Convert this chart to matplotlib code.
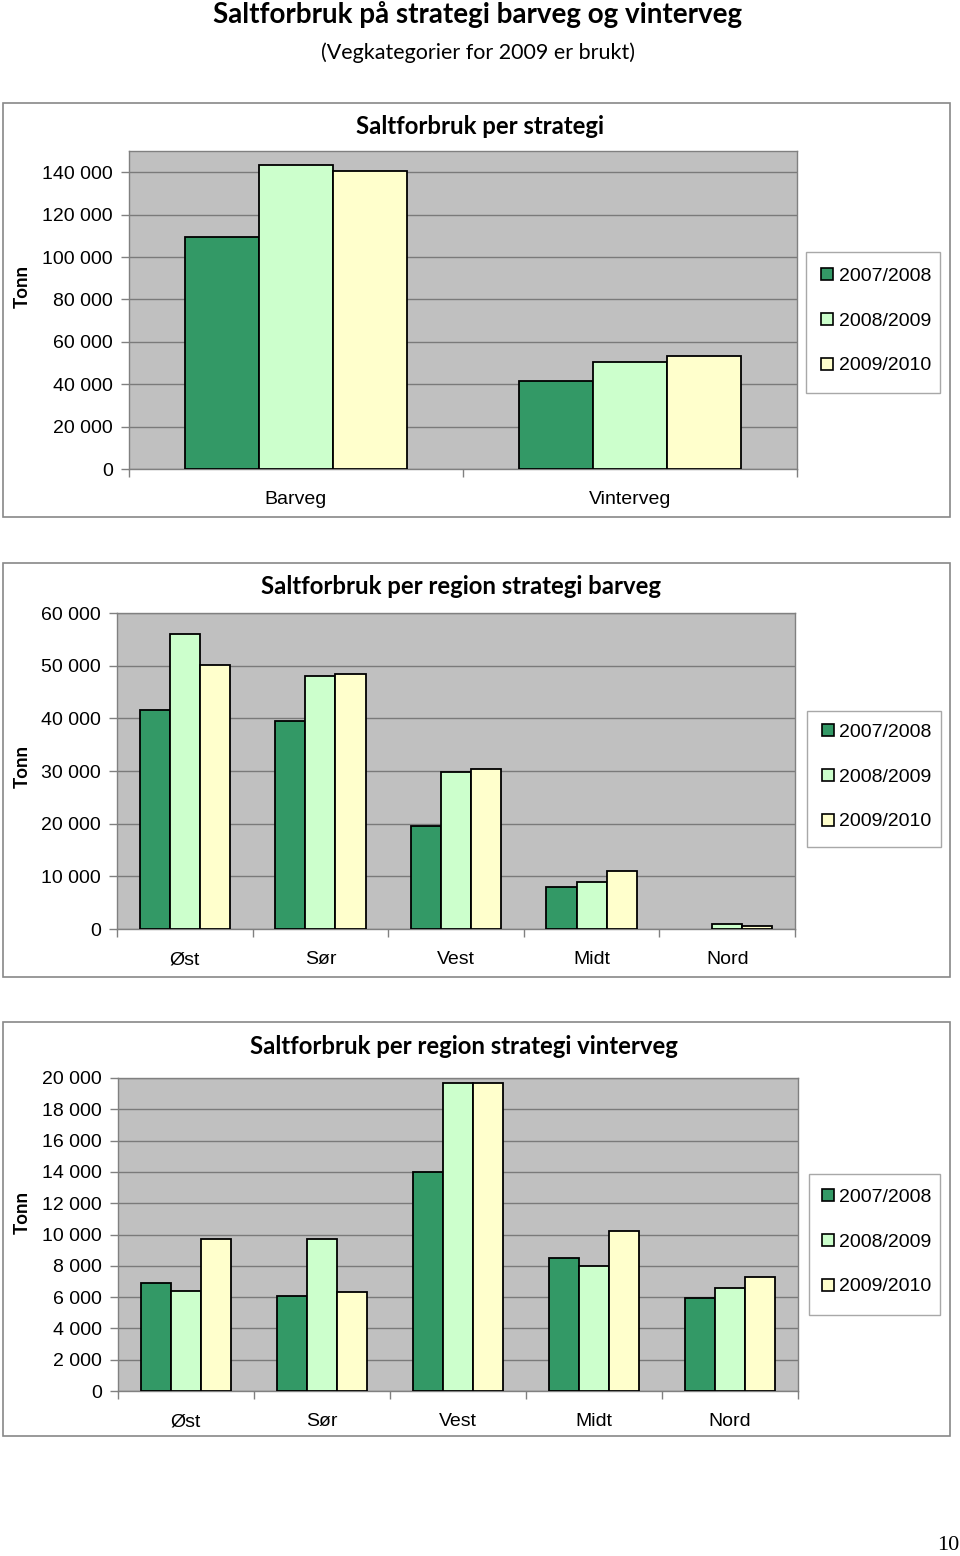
import matplotlib
matplotlib.use("Agg")
import matplotlib.pyplot as plt
from matplotlib.patches import Rectangle
from matplotlib.lines import Line2D
from matplotlib.ticker import FuncFormatter, FixedLocator
import numpy as np

# ---------------- data ----------------
seasons = ["2007/2008", "2008/2009", "2009/2010"]
colors = ["#339966", "#CCFFCC", "#FFFFCC"]

strategy_cats = ["Barveg", "Vinterveg"]
strategy_0708 = [109300, 41700]
strategy_0809 = [143600, 50500]
strategy_0910 = [140800, 53500]

regions = ["Øst", "Sør", "Vest", "Midt", "Nord"]
barveg_0708 = [41600, 39500, 19600, 8000, 0]
barveg_0809 = [56000, 48100, 29800, 8900, 950]
barveg_0910 = [50200, 48400, 30400, 11000, 600]

vinter_0708 = [6900, 6100, 14000, 8500, 5950]
vinter_0809 = [6400, 9700, 19700, 8000, 6600]
vinter_0910 = [9700, 6300, 19700, 10200, 7300]

W, H = 960, 1556
fig = plt.figure(figsize=(W / 100, H / 100), dpi=100)
fig.patch.set_facecolor("white")

TITLE_FONT = ["Lato", "DejaVu Sans"]
TICK_FONT = ["Liberation Sans", "DejaVu Sans"]


def rect(x0, y0, x1, y1):
    return [x0 / W, 1 - y1 / H, (x1 - x0) / W, (y1 - y0) / H]


def fx(x):
    return x / W


def fy(y):
    return 1 - y / H


def fmt(v, pos):
    return f"{int(round(v)):,}".replace(",", " ")


def frame(x0, y0, x1, y1, color, lw):
    fig.patches.append(Rectangle((fx(x0), fy(y1)), fx(x1 - x0), (y1 - y0) / H,
                                 transform=fig.transFigure, fill=False,
                                 edgecolor=color, linewidth=lw))


def panel(box, plot, title, title_xy, cats, series, ymax, ystep, leg_box, leg_anchor,
          tonn_y):
    frame(*box, "#888888", 1.2)
    ax = fig.add_axes(rect(*plot))
    ax.set_facecolor("#C0C0C0")
    n = len(cats)
    x = np.arange(n)
    w = 1 / 4.5
    for j, vals in enumerate(series):
        bars = ax.bar(x + (j - 1) * w, vals, width=w, color=colors[j], edgecolor="black",
                      linewidth=1.3, zorder=3, label=seasons[j])
        for b in bars:
            if b.get_height() == 0:
                b.set_linewidth(0)
    ax.set_xlim(-0.5, n - 0.5)
    ax.set_ylim(0, ymax)
    ticks = np.arange(0, ymax + 1, ystep)
    ticks = ticks[ticks <= ymax]
    ax.yaxis.set_major_locator(FixedLocator(ticks))
    ax.yaxis.set_major_formatter(FuncFormatter(fmt))
    ax.grid(axis="y", color="#7a7a7a", linewidth=1.0, zorder=1)
    ax.set_axisbelow(True)
    ax.set_xticks(x)
    ax.set_xticklabels(cats)
    ax.xaxis.set_minor_locator(FixedLocator(np.arange(-0.5, n, 1.0)))
    ax.tick_params(axis="x", which="major", length=0, pad=16, labelsize=14)
    ax.tick_params(axis="x", which="minor", length=6, color="#808080", width=1)
    ax.tick_params(axis="y", length=6, color="#808080", width=1, pad=5.5, labelsize=14)
    for lab in ax.get_xticklabels() + ax.get_yticklabels():
        lab.set_fontfamily(TICK_FONT)
    for s in ax.spines.values():
        s.set_color("#808080")
        s.set_linewidth(1.0)
    fig.text(fx(title_xy[0]), fy(title_xy[1]), title, ha="center", va="center",
             fontsize=17.2, fontweight="bold", family=TITLE_FONT)
    fig.text(fx(22), fy(tonn_y), "Tonn", rotation=90, ha="center", va="center",
             fontsize=13.5, fontweight="bold", family=TITLE_FONT)
    frame(*leg_box, "#A8A8A8", 1.0)
    handles = [Line2D([], [], linestyle="none", marker="s", markersize=8,
                      markerfacecolor=colors[j], markeredgecolor="black",
                      markeredgewidth=1.2, label=seasons[j]) for j in range(3)]
    fig.legend(handles=handles, loc="center left",
               bbox_to_anchor=(fx(leg_anchor[0]), fy(leg_anchor[1])),
               frameon=False, prop={"family": TICK_FONT, "size": 14},
               handlelength=0.6, handleheight=0.6, handletextpad=0.3,
               labelspacing=1.43, borderpad=0, borderaxespad=0)
    return ax


panel((3, 103, 950, 517), (129, 151, 797, 469), "Saltforbruk per strategi", (480, 127),
      strategy_cats, [strategy_0708, strategy_0809, strategy_0910], 150000, 20000,
      (806, 252, 940, 393), (821, 321), 286)

panel((3, 563, 950, 977), (117, 613, 795, 929), "Saltforbruk per region strategi barveg",
      (461, 587), regions, [barveg_0708, barveg_0809, barveg_0910], 60000, 10000,
      (807, 711, 941, 847), (822, 777), 767)

panel((3, 1022, 950, 1436), (118, 1078, 798, 1391), "Saltforbruk per region strategi vinterveg",
      (464, 1046), regions, [vinter_0708, vinter_0809, vinter_0910], 20000, 2000,
      (809, 1174, 940, 1315), (822, 1242), 1213)

fig.text(fx(478), fy(15), "Saltforbruk på strategi barveg og vinterveg", ha="center",
         va="center", fontsize=20, fontweight="bold", family=TITLE_FONT)
fig.text(fx(478), fy(53), "(Vegkategorier for 2009 er brukt)", ha="center", va="center",
         fontsize=15.5, family=TITLE_FONT)
fig.text(fx(948), fy(1545), "10", ha="center", va="center", fontsize=16,
         family=["Liberation Serif", "DejaVu Serif"])

fig.savefig("out.png", dpi=100)
